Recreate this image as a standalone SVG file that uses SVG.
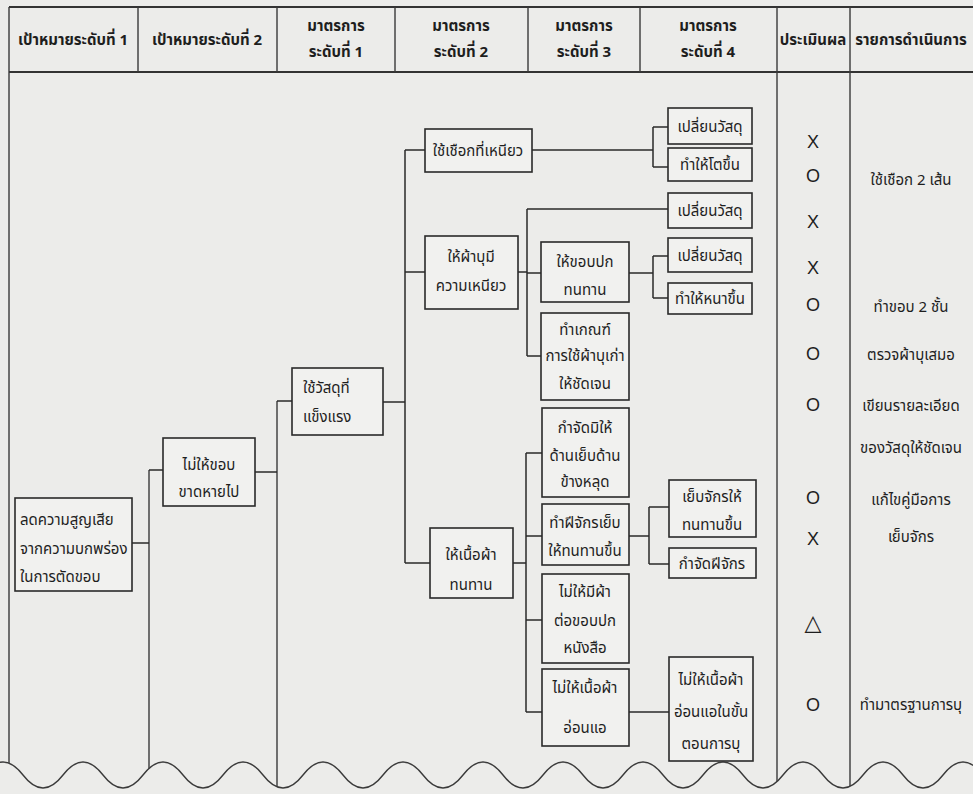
<svg xmlns="http://www.w3.org/2000/svg" width="973" height="794" viewBox="0 0 973 794">
<style>
.bg{fill:#ececea}
.tl{stroke:#3a3a3a;stroke-width:1.4;fill:none}
.tb{stroke:#333;stroke-width:2;fill:none}
.box{fill:#f1f1ef;stroke:#2a2a2a;stroke-width:1.6}
.c{stroke:#2a2a2a;stroke-width:1.5;fill:none}
text{font-family:"Noto Sans Thai","Noto Sans","DejaVu Sans",sans-serif;fill:#1e1e1e;dominant-baseline:central}
.h{font-size:15px;font-weight:bold;text-anchor:middle}
.t{font-size:15px;text-anchor:middle}
.tlft{font-size:15px;text-anchor:start}
.m{font-size:18px;text-anchor:middle;font-family:"Liberation Sans","DejaVu Sans",sans-serif}
.tri{font-size:22px}
</style>
<defs>
<clipPath id="above"><path d="M-17 0 V775 q20 -26 40 0 t40 0 t40 0 t40 0 t40 0 t40 0 t40 0 t40 0 t40 0 t40 0 t40 0 t40 0 t40 0 t40 0 t40 0 t40 0 t40 0 t40 0 t40 0 t40 0 t40 0 t40 0 t40 0 t40 0 t40 0 t40 0 V0 Z"/></clipPath>
</defs>
<rect class="bg" x="0" y="0" width="973" height="794"/>
<g id="table">
<path class="tb" d="M9 7 H973 M9 72 H973"/>
<g clip-path="url(#above)">
<path class="tl" d="M9 7 V800 M777 72 V800 M850 72 V800 M149 470 V800 M277 401 V800"/>
</g>
<path class="tl" d="M138 7 V72 M277 7 V72 M395 7 V72 M528 7 V72 M640 7 V72 M777 7 V72 M850 7 V72"/>
<path class="tl" d="M-17 775 q20 -26 40 0 t40 0 t40 0 t40 0 t40 0 t40 0 t40 0 t40 0 t40 0 t40 0 t40 0 t40 0 t40 0 t40 0 t40 0 t40 0 t40 0 t40 0 t40 0 t40 0 t40 0 t40 0 t40 0 t40 0 t40 0 t40 0"/>
<text class="h" x="73" y="40">เป้าหมายระดับที่ 1</text>
<text class="h" x="207" y="40">เป้าหมายระดับที่ 2</text>
<text class="h" x="336" y="26">มาตรการ</text>
<text class="h" x="336" y="52">ระดับที่ 1</text>
<text class="h" x="461" y="26">มาตรการ</text>
<text class="h" x="461" y="52">ระดับที่ 2</text>
<text class="h" x="584" y="26">มาตรการ</text>
<text class="h" x="584" y="52">ระดับที่ 3</text>
<text class="h" x="708" y="26">มาตรการ</text>
<text class="h" x="708" y="52">ระดับที่ 4</text>
<text class="h" x="813" y="40">ประเมินผล</text>
<text class="h" x="911" y="40">รายการดำเนินการ</text>
</g>
<g id="connectors">
<path class="c" d="M132 543 H149 M149 470 H163"/>
<path class="c" d="M255 472 H277 M277 401 H292"/>
<path class="c" d="M383 402 H405 M405 150 V563 M405 150 H425 M405 272 H425 M405 563 H430"/>
<path class="c" d="M532 150 H653 M653 127 V167 M653 127 H668 M653 167 H668"/>
<path class="c" d="M518 272 H527 M527 209 V356 M527 209 H668 M527 273 H541 M527 356 H541"/>
<path class="c" d="M629 273 H653 M653 256 V298 M653 256 H668 M653 298 H668"/>
<path class="c" d="M513 563 H526 M526 453 V712 M526 453 H542 M526 536 H542 M526 620 H542 M526 712 H542"/>
<path class="c" d="M629 536 H649 M649 507 V564 M649 507 H669 M649 564 H669"/>
<path class="c" d="M629 712 H669"/>
</g>
<g id="n1"><rect class="box" x="15" y="498" width="117" height="93"/>
<text class="tlft" x="20" y="520">ลดความสูญเสีย</text><text class="tlft" x="20" y="549">จากความบกพร่อง</text><text class="tlft" x="20" y="577">ในการตัดขอบ</text></g>
<g id="n2"><rect class="box" x="163" y="438" width="92" height="68"/>
<text class="t" x="209" y="465">ไม่ให้ขอบ</text><text class="t" x="209" y="492">ขาดหายไป</text></g>
<g id="n3"><rect class="box" x="292" y="368" width="91" height="67"/>
<text class="tlft" x="303" y="388">ใช้วัสดุที่</text><text class="tlft" x="303" y="417">แข็งแรง</text></g>
<g id="n4"><rect class="box" x="425" y="129" width="107" height="43"/>
<text class="t" x="478" y="151">ใช้เชือกที่เหนียว</text></g>
<g id="n5"><rect class="box" x="425" y="236" width="93" height="73"/>
<text class="t" x="471" y="257">ให้ผ้าบุมี</text><text class="t" x="471" y="286">ความเหนียว</text></g>
<g id="n6"><rect class="box" x="430" y="528" width="83" height="70"/>
<text class="t" x="471" y="555">ให้เนื้อผ้า</text><text class="t" x="471" y="585">ทนทาน</text></g>
<g id="n7"><rect class="box" x="541" y="242" width="88" height="60"/>
<text class="t" x="585" y="262">ให้ขอบปก</text><text class="t" x="585" y="290">ทนทาน</text></g>
<g id="n8"><rect class="box" x="541" y="313" width="88" height="87"/>
<text class="t" x="585" y="330">ทำเกณฑ์</text><text class="t" x="585" y="356">การใช้ผ้าบุเก่า</text><text class="t" x="585" y="384">ให้ชัดเจน</text></g>
<g id="n9"><rect class="box" x="542" y="408" width="87" height="89"/>
<text class="t" x="585" y="428">กำจัดมิให้</text><text class="t" x="585" y="456">ด้านเย็บด้าน</text><text class="t" x="585" y="482">ข้างหลุด</text></g>
<g id="n10"><rect class="box" x="542" y="504" width="87" height="61"/>
<text class="t" x="585" y="523">ทำฝีจักรเย็บ</text><text class="t" x="585" y="551">ให้ทนทานขึ้น</text></g>
<g id="n11"><rect class="box" x="542" y="574" width="87" height="89"/>
<text class="t" x="585" y="592">ไม่ให้มีผ้า</text><text class="t" x="585" y="621">ต่อขอบปก</text><text class="t" x="585" y="648">หนังสือ</text></g>
<g id="n12"><rect class="box" x="542" y="669" width="87" height="77"/>
<text class="t" x="585" y="688">ไม่ให้เนื้อผ้า</text><text class="t" x="585" y="728">อ่อนแอ</text></g>
<g id="n13"><rect class="box" x="668" y="108" width="84" height="36"/>
<text class="t" x="710" y="127">เปลี่ยนวัสดุ</text></g>
<g id="n14"><rect class="box" x="668" y="148" width="84" height="33"/>
<text class="t" x="710" y="165">ทำให้โตขึ้น</text></g>
<g id="n15"><rect class="box" x="668" y="193" width="84" height="35"/>
<text class="t" x="710" y="211">เปลี่ยนวัสดุ</text></g>
<g id="n16"><rect class="box" x="668" y="238" width="84" height="34"/>
<text class="t" x="710" y="256">เปลี่ยนวัสดุ</text></g>
<g id="n17"><rect class="box" x="668" y="283" width="84" height="31"/>
<text class="t" x="710" y="299">ทำให้หนาขึ้น</text></g>
<g id="n18"><rect class="box" x="669" y="480" width="87" height="57"/>
<text class="t" x="712" y="497">เย็บจักรให้</text><text class="t" x="712" y="525">ทนทานขึ้น</text></g>
<g id="n19"><rect class="box" x="669" y="548" width="87" height="30"/>
<text class="t" x="712" y="564">กำจัดฝีจักร</text></g>
<g id="n20"><rect class="box" x="669" y="657" width="84" height="104"/>
<text class="t" x="711" y="680">ไม่ให้เนื้อผ้า</text><text class="t" x="711" y="712">อ่อนแอในขั้น</text><text class="t" x="711" y="744">ตอนการบุ</text></g>
<g id="eval">
<text class="m" x="813" y="142">X</text>
<text class="m" x="813" y="176">O</text>
<text class="m" x="813" y="222">X</text>
<text class="m" x="813" y="268">X</text>
<text class="m" x="813" y="305">O</text>
<text class="m" x="813" y="354">O</text>
<text class="m" x="813" y="405">O</text>
<text class="m" x="813" y="498">O</text>
<text class="m" x="813" y="539">X</text>
<text class="m tri" x="813" y="622">△</text>
<text class="m" x="813" y="705">O</text>
</g>
<g id="actions">
<text class="t" x="911" y="180">ใช้เชือก 2 เส้น</text>
<text class="t" x="911" y="307">ทำขอบ 2 ชั้น</text>
<text class="t" x="911" y="355">ตรวจผ้าบุเสมอ</text>
<text class="t" x="911" y="406">เขียนรายละเอียด</text>
<text class="t" x="911" y="448">ของวัสดุให้ชัดเจน</text>
<text class="t" x="911" y="500">แก้ไขคู่มือการ</text>
<text class="t" x="911" y="537">เย็บจักร</text>
<text class="t" x="911" y="705">ทำมาตรฐานการบุ</text>
</g>
</svg>
